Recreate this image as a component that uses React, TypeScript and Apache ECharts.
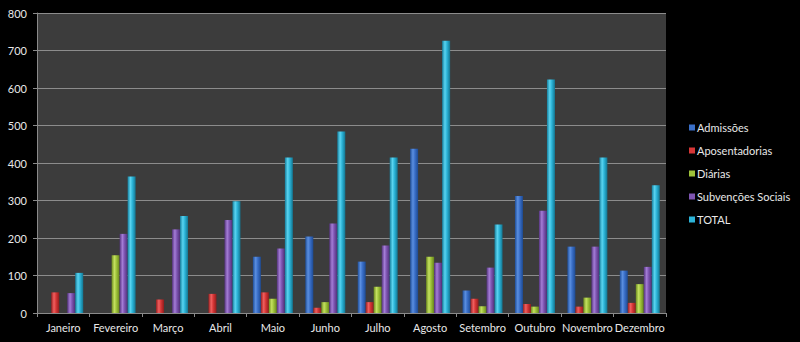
import React, { useEffect, useRef } from "react";
import * as echarts from "echarts";

const months = ["Janeiro", "Fevereiro", "Março", "Abril", "Maio", "Junho", "Julho", "Agosto", "Setembro", "Outubro", "Novembro", "Dezembro"];
const admissoes = [0, 0, 0, 0, 150, 204, 137, 438, 60, 312, 177, 113];
const aposentadorias = [55, 0, 36, 51, 55, 14, 29, 0, 38, 24, 17, 27];
const diarias = [0, 154, 0, 0, 38, 29, 70, 150, 18, 17, 41, 77];
const subvencoes = [53, 211, 223, 248, 172, 239, 180, 134, 121, 273, 177, 123];
const total = [107, 364, 259, 298, 415, 484, 415, 726, 236, 623, 415, 341];

const seriesDefs = [
  { name: "Admissões", data: admissoes, c: ["#1f4f9a", "#5b8fe0", "#3a6fc8", "#1d4a92"] },
  { name: "Aposentadorias", data: aposentadorias, c: ["#9a1f1f", "#f06060", "#d63636", "#8f1c1c"] },
  { name: "Diárias", data: diarias, c: ["#6e8d1e", "#c4e060", "#9ec23a", "#66831b"] },
  { name: "Subvenções Sociais", data: subvencoes, c: ["#55337e", "#a47dd6", "#7e55b2", "#4e2f76"] },
  { name: "TOTAL", data: total, c: ["#167f9e", "#5ad4f0", "#2cb4d8", "#137590"] },
];

export default function App() {
  const ref = useRef<HTMLDivElement>(null);
  useEffect(() => {
    const chart = echarts.init(ref.current!, null, { renderer: "svg" });
    const font = "Lato, 'Noto Sans', sans-serif";
    chart.setOption({
      animation: false,
      backgroundColor: "#000000",
      textStyle: { fontFamily: font },
      grid: { left: 37, right: 134, top: 13, bottom: 29, show: true, backgroundColor: "#3c3c3c", borderWidth: 0 },
      legend: {
        orient: "vertical",
        left: 684,
        top: 117,
        itemWidth: 6,
        itemHeight: 6,
        itemGap: 12,
        icon: "rect",
        textStyle: { color: "#e8e8e8", fontSize: 11, fontFamily: font, padding: [0, 0, 0, -3] },
        data: seriesDefs.map((s) => ({ name: s.name, itemStyle: { color: s.c[2] } })),
      },
      xAxis: {
        type: "category",
        data: months,
        axisLine: { lineStyle: { color: "#8a8a8a", width: 1 } },
        axisTick: { show: true, length: 4, lineStyle: { color: "#8a8a8a" } },
        axisLabel: { color: "#e8e8e8", fontSize: 11, margin: 9, interval: 0 },
      },
      yAxis: {
        type: "value",
        min: 0,
        max: 800,
        interval: 100,
        axisLine: { show: true, lineStyle: { color: "#8a8a8a" } },
        axisTick: { show: true, length: 4, lineStyle: { color: "#8a8a8a" } },
        axisLabel: { color: "#e8e8e8", fontSize: 11, margin: 10 },
        splitLine: { lineStyle: { color: "#8c8c8c", width: 1 } },
      },
      series: seriesDefs.map((s) => ({
        name: s.name,
        type: "bar",
        data: s.data,
        barWidth: 8,
        barGap: "0%",
        itemStyle: {
          color: new echarts.graphic.LinearGradient(0, 0, 1, 0, [
            { offset: 0, color: s.c[0] },
            { offset: 0.35, color: s.c[1] },
            { offset: 0.6, color: s.c[2] },
            { offset: 1, color: s.c[3] },
          ]),
        },
      })),
    });
    return () => chart.dispose();
  }, []);
  return <div ref={ref} style={{ width: 800, height: 342, position: "fixed", left: 0, top: 0 }} />;
}
